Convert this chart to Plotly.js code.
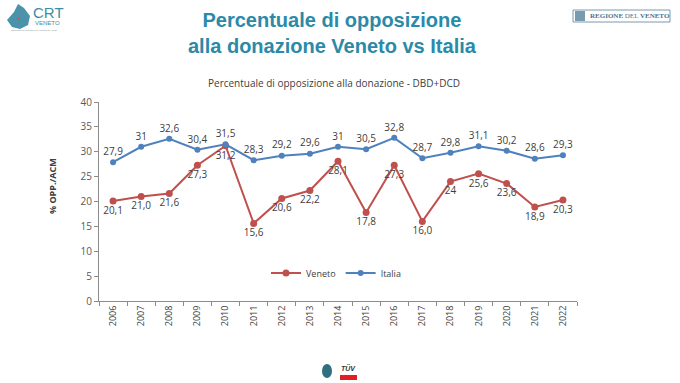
<!DOCTYPE html>
<html><head><meta charset="utf-8">
<script src="https://cdn.plot.ly/plotly-3.0.1.min.js"></script>
<style>html,body{margin:0;padding:0;background:#fff}#chart{width:680px;height:383px}</style>
</head><body><div id="chart"></div>
<script>
const years = ['2006','2007','2008','2009','2010','2011','2012','2013','2014','2015','2016','2017','2018','2019','2020','2021','2022'];
const veneto = [20.1,21.0,21.6,27.3,31.2,15.6,20.6,22.2,28.1,17.8,27.3,16.0,24,25.6,23.6,18.9,20.3];
const venetoLabels = ['20,1','21,0','21,6','27,3','31,2','15,6','20,6','22,2','28,1','17,8','27,3','16,0','24','25,6','23,6','18,9','20,3'];
const italia = [27.9,31,32.6,30.4,31.5,28.3,29.2,29.6,31,30.5,32.8,28.7,29.8,31.1,30.2,28.6,29.3];
const italiaLabels = ['27,9','31','32,6','30,4','31,5','28,3','29,2','29,6','31','30,5','32,8','28,7','29,8','31,1','30,2','28,6','29,3'];

// pixel -> paper helpers (plot area: x 99..577, y 102..301)
const L=99, R=577, T=102, B=301;
const px = x => (x-L)/(R-L);
const py = y => (B-y)/(B-T);

const lab = {family:'Open Sans, Liberation Sans, sans-serif', size:10, color:'#404040'};
const traces = [
  {x:years, y:veneto, name:'Veneto', type:'scatter', mode:'lines+markers+text',
   text:venetoLabels, textposition:'bottom center', textfont:lab,
   line:{color:'#c0504d', width:2}, marker:{color:'#c0504d', size:7}, cliponaxis:false},
  {x:years, y:italia, name:'Italia', type:'scatter', mode:'lines+markers+text',
   text:italiaLabels, textposition:'top center', textfont:lab,
   line:{color:'#4f81bd', width:2}, marker:{color:'#4f81bd', size:6}, cliponaxis:false}
];
const layout = {
  width:680, height:383,
  margin:{l:L, r:680-R, t:T, b:383-B},
  paper_bgcolor:'#fff', plot_bgcolor:'#fff',
  font:{family:'Open Sans, Liberation Sans, sans-serif', color:'#404040', size:9},
  showlegend:true,
  legend:{orientation:'h', x:px(266), y:py(273), xanchor:'left', yanchor:'middle',
    font:{size:9, color:'#404040'}, bgcolor:'rgba(0,0,0,0)', itemwidth:30, tracegroupgap:0},
  xaxis:{type:'category', tickangle:-90, tickson:'boundaries', ticks:'outside', ticklen:4,
    tickcolor:'#8c8c8c', showline:true, linecolor:'#8c8c8c', showgrid:false,
    tickfont:{size:9, color:'#404040'}, range:[-0.5,16.5]},
  yaxis:{range:[0,40], dtick:5, ticks:'outside', ticklen:4, tickcolor:'#8c8c8c',
    showline:true, linecolor:'#8c8c8c', showgrid:false, zeroline:false,
    tickfont:{size:10, color:'#595959'}},
  annotations:[
    {xref:'paper', yref:'paper', x:px(52), y:py(186), textangle:-90, xanchor:'center', yanchor:'middle', showarrow:false,
     text:'<b>% OPP./ACM</b>', font:{size:9, color:'#404040'}},
    {xref:'paper', yref:'paper', x:px(334), y:py(83), xanchor:'center', yanchor:'middle', showarrow:false,
     text:'Percentuale di opposizione alla donazione - DBD+DCD', font:{size:10, color:'#404040'}},
    {xref:'paper', yref:'paper', x:px(332), y:py(33), xanchor:'center', yanchor:'middle', showarrow:false,
     text:'<b>Percentuale di opposizione<br>alla donazione Veneto vs Italia</b>',
     font:{family:'Liberation Sans Narrow, Liberation Sans, Arial, sans-serif', size:20, color:'#2a8aa8'}},
    {xref:'paper', yref:'paper', x:px(31), y:py(13), xanchor:'left', yanchor:'middle', showarrow:false,
     text:'CRT', font:{family:'Liberation Sans, sans-serif', size:15, color:'#3b8ea5'}},
    {xref:'paper', yref:'paper', x:px(33), y:py(23), xanchor:'left', yanchor:'middle', showarrow:false,
     text:'VENETO', font:{family:'Liberation Sans, sans-serif', size:6, color:'#3b8ea5'}},
    {xref:'paper', yref:'paper', x:px(34), y:py(30), xanchor:'center', yanchor:'middle', showarrow:false,
     text:'Coordinamento Regionale per i Trapianti del Veneto', font:{family:'Liberation Sans, sans-serif', size:2, color:'#888'}},
    {xref:'paper', yref:'paper', x:px(588), y:py(16), xanchor:'left', yanchor:'middle', showarrow:false,
     text:'<b>REGIONE</b> DEL <b>VENETO</b>', font:{family:'Liberation Serif, serif', size:7, color:'#4a7390'}},
    {xref:'paper', yref:'paper', x:px(348), y:py(368), xanchor:'center', yanchor:'middle', showarrow:false,
     text:'<b><i>TÜV</i></b>', font:{family:'Liberation Sans, sans-serif', size:7, color:'#333'}}
  ],
  shapes:[
    {type:'path', xref:'paper', yref:'paper',
     path:`M ${px(7)} ${py(20)} L ${px(14)} ${py(12)} L ${px(18)} ${py(4)} L ${px(24)} ${py(8)} L ${px(30)} ${py(16)} L ${px(28)} ${py(25)} L ${px(20)} ${py(29)} L ${px(12)} ${py(27)} Z`,
     fillcolor:'#4a93ab', line:{width:0}},
    {type:'circle', xref:'paper', yref:'paper', x0:px(17), x1:px(20), y0:py(20), y1:py(17), line:{width:0}, fillcolor:'#d9534f'},
    {type:'rect', xref:'paper', yref:'paper', x0:px(573), x1:px(670), y0:py(22), y1:py(10), line:{color:'#7a9ab0', width:1}, fillcolor:'#fff'},
    {type:'rect', xref:'paper', yref:'paper', x0:px(575), x1:px(585), y0:py(21), y1:py(11), line:{width:0}, fillcolor:'#7a9ab0'},
    {type:'circle', xref:'paper', yref:'paper', x0:px(322), x1:px(332), y0:py(378), y1:py(364), line:{width:0}, fillcolor:'#2f6f7f'},
    {type:'rect', xref:'paper', yref:'paper', x0:px(340), x1:px(357), y0:py(380), y1:py(375), line:{width:0}, fillcolor:'#e31e24'}
  ]
};
Plotly.newPlot('chart', traces, layout, {displayModeBar:false, staticPlot:true});
</script></body></html>
